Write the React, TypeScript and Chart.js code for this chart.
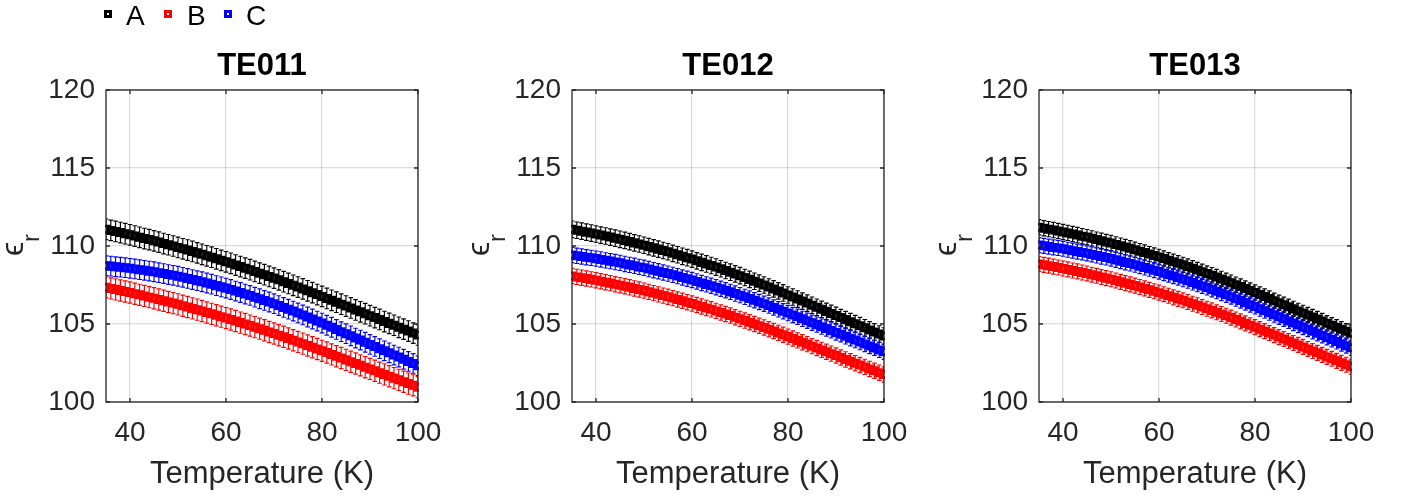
import React, { useEffect, useRef } from "react";
import { Chart, registerables } from "chart.js";

Chart.register(...registerables);

// ---------- data ----------
const temperature = [
  35, 36, 37, 38, 39, 40, 41, 42, 43, 44, 45, 46, 47, 48, 49, 50, 51, 52, 53, 54, 55, 56,
  57, 58, 59, 60, 61, 62, 63, 64, 65, 66, 67, 68, 69, 70, 71, 72, 73, 74, 75, 76, 77, 78,
  79, 80, 81, 82, 83, 84, 85, 86, 87, 88, 89, 90, 91, 92, 93, 94, 95, 96, 97, 98, 99, 100,
];

const te011A = [
  111.07, 111.0, 110.93, 110.86, 110.79, 110.72, 110.64, 110.56, 110.48, 110.41, 110.33,
  110.25, 110.16, 110.08, 110.0, 109.91, 109.82, 109.74, 109.65, 109.56, 109.47,
  109.37, 109.28, 109.18, 109.08, 108.99, 108.89, 108.78, 108.68, 108.58, 108.48,
  108.37, 108.26, 108.16, 108.05, 107.94, 107.83, 107.71, 107.6, 107.48, 107.37,
  107.25, 107.13, 107.01, 106.89, 106.77, 106.64, 106.52, 106.4, 106.27, 106.15,
  106.03, 105.9, 105.78, 105.66, 105.53, 105.41, 105.29, 105.16, 105.04, 104.92,
  104.79, 104.67, 104.55, 104.42, 104.3,
];
const te011B = [
  107.35, 107.28, 107.22, 107.15, 107.08, 107.02, 106.94, 106.87, 106.8, 106.72, 106.65,
  106.57, 106.49, 106.41, 106.34, 106.26, 106.17, 106.09, 106.0, 105.92, 105.83,
  105.74, 105.65, 105.56, 105.47, 105.38, 105.29, 105.19, 105.09, 105.0, 104.9,
  104.8, 104.7, 104.6, 104.49, 104.39, 104.28, 104.18, 104.07, 103.96, 103.85,
  103.74, 103.62, 103.51, 103.4, 103.28, 103.17, 103.05, 102.93, 102.82, 102.7,
  102.58, 102.47, 102.35, 102.23, 102.12, 102.0, 101.88, 101.77, 101.65, 101.53,
  101.42, 101.3, 101.18, 101.07, 100.95,
];
const te011C = [
  108.74, 108.71, 108.67, 108.64, 108.61, 108.57, 108.53, 108.48, 108.44, 108.39, 108.35,
  108.29, 108.23, 108.17, 108.12, 108.06, 107.99, 107.92, 107.85, 107.78, 107.71,
  107.63, 107.55, 107.46, 107.38, 107.3, 107.21, 107.11, 107.02, 106.92, 106.83,
  106.72, 106.62, 106.51, 106.41, 106.3, 106.18, 106.06, 105.95, 105.83, 105.71,
  105.58, 105.45, 105.32, 105.19, 105.06, 104.92, 104.79, 104.65, 104.51, 104.38,
  104.24, 104.1, 103.97, 103.83, 103.69, 103.56, 103.42, 103.28, 103.15, 103.01,
  102.88, 102.74, 102.6, 102.47, 102.33,
];

const te012A = [
  111.07, 111.01, 110.95, 110.89, 110.83, 110.77, 110.7, 110.64, 110.57, 110.5, 110.43,
  110.36, 110.28, 110.2, 110.13, 110.05, 109.96, 109.88, 109.8, 109.71, 109.63,
  109.53, 109.44, 109.34, 109.25, 109.16, 109.05, 108.95, 108.85, 108.75, 108.65,
  108.54, 108.43, 108.32, 108.21, 108.1, 107.98, 107.86, 107.74, 107.62, 107.5,
  107.37, 107.25, 107.12, 106.99, 106.86, 106.73, 106.6, 106.47, 106.34, 106.2,
  106.07, 105.94, 105.81, 105.68, 105.55, 105.41, 105.28, 105.15, 105.02, 104.89,
  104.76, 104.62, 104.49, 104.36, 104.23,
];
const te012B = [
  108.08, 108.02, 107.97, 107.92, 107.86, 107.81, 107.74, 107.68, 107.62, 107.55, 107.49,
  107.42, 107.35, 107.28, 107.21, 107.14, 107.06, 106.98, 106.9, 106.82, 106.75,
  106.66, 106.57, 106.49, 106.4, 106.31, 106.22, 106.12, 106.03, 105.94, 105.84,
  105.74, 105.64, 105.54, 105.43, 105.33, 105.22, 105.11, 105.0, 104.89, 104.78,
  104.66, 104.55, 104.43, 104.31, 104.19, 104.07, 103.95, 103.83, 103.71, 103.58,
  103.46, 103.34, 103.22, 103.1, 102.98, 102.85, 102.73, 102.61, 102.49, 102.37,
  102.25, 102.12, 102.0, 101.88, 101.76,
];
const te012C = [
  109.42, 109.37, 109.33, 109.28, 109.24, 109.19, 109.14, 109.08, 109.03, 108.97, 108.92,
  108.85, 108.79, 108.73, 108.66, 108.6, 108.52, 108.45, 108.38, 108.3, 108.23,
  108.15, 108.07, 107.98, 107.9, 107.82, 107.73, 107.63, 107.54, 107.45, 107.36,
  107.26, 107.16, 107.06, 106.95, 106.85, 106.74, 106.63, 106.52, 106.41, 106.3,
  106.18, 106.06, 105.94, 105.82, 105.7, 105.58, 105.46, 105.33, 105.21, 105.08,
  104.96, 104.83, 104.71, 104.59, 104.46, 104.34, 104.21, 104.09, 103.97, 103.84,
  103.72, 103.59, 103.47, 103.34, 103.22,
];

const te013A = [
  111.2, 111.14, 111.08, 111.02, 110.96, 110.9, 110.84, 110.77, 110.7, 110.63, 110.57,
  110.49, 110.41, 110.34, 110.26, 110.19, 110.1, 110.02, 109.93, 109.85, 109.76,
  109.67, 109.58, 109.48, 109.39, 109.3, 109.2, 109.09, 108.99, 108.89, 108.79,
  108.68, 108.57, 108.46, 108.35, 108.24, 108.13, 108.01, 107.89, 107.77, 107.65,
  107.52, 107.4, 107.27, 107.15, 107.02, 106.89, 106.76, 106.63, 106.49, 106.36,
  106.23, 106.1, 105.97, 105.84, 105.71, 105.58, 105.45, 105.32, 105.19, 105.05,
  104.92, 104.79, 104.66, 104.53, 104.4,
];
const te013B = [
  108.85, 108.79, 108.74, 108.68, 108.62, 108.56, 108.5, 108.43, 108.37, 108.3, 108.24,
  108.16, 108.09, 108.01, 107.94, 107.87, 107.79, 107.7, 107.62, 107.54, 107.46,
  107.37, 107.28, 107.19, 107.1, 107.01, 106.91, 106.81, 106.71, 106.61, 106.52,
  106.41, 106.3, 106.2, 106.09, 105.98, 105.87, 105.75, 105.64, 105.53, 105.41,
  105.29, 105.17, 105.04, 104.92, 104.8, 104.67, 104.54, 104.42, 104.29, 104.16,
  104.04, 103.91, 103.78, 103.66, 103.53, 103.4, 103.27, 103.15, 103.02, 102.89,
  102.77, 102.64, 102.51, 102.39, 102.26,
];
const te013C = [
  110.06, 110.01, 109.96, 109.91, 109.87, 109.82, 109.76, 109.7, 109.64, 109.59, 109.53,
  109.46, 109.39, 109.32, 109.26, 109.19, 109.11, 109.03, 108.95, 108.88, 108.8,
  108.71, 108.62, 108.54, 108.45, 108.36, 108.26, 108.16, 108.07, 107.97, 107.87,
  107.77, 107.66, 107.55, 107.44, 107.34, 107.22, 107.1, 106.98, 106.87, 106.75,
  106.62, 106.5, 106.37, 106.24, 106.12, 105.98, 105.85, 105.72, 105.59, 105.46,
  105.33, 105.19, 105.06, 104.93, 104.8, 104.67, 104.53, 104.4, 104.27, 104.14,
  104.01, 103.88, 103.74, 103.61, 103.48,
];

// half-length of the error bars, per series (A, B, C)
const te011Err = [0.66, 0.68, 0.63];
const te012Err = [0.53, 0.49, 0.49];
const te013Err = [0.49, 0.48, 0.48];

const panelTitles = ["TE011", "TE012", "TE013"];
const seriesNames = ["A", "B", "C"];
const seriesColors = ["#000000", "#ff0000", "#0000ff"];
const xTickValues = [40, 60, 80, 100];
const yTickStep = 5;
const xRange = [35, 100];
const yRange = [100, 120];

const panels = [
  { title: panelTitles[0], series: [te011A, te011B, te011C], errors: te011Err },
  { title: panelTitles[1], series: [te012A, te012B, te012C], errors: te012Err },
  { title: panelTitles[2], series: [te013A, te013B, te013C], errors: te013Err },
];

// ---------- style ----------
const FONT = '"Liberation Sans", Arial, Helvetica, sans-serif';
const AXIS_COLOR = "#262626";
const GRID_COLOR = "rgba(0,0,0,0.14)";
const CANVAS_W = 466;
const CANVAS_H = 496;
const CANVAS_LEFTS = [0, 466, 933];

const errorBarPlugin = {
  id: "errorBars",
  beforeDatasetDraw(chart: any, args: any) {
    const ds: any = chart.data.datasets[args.index];
    const meta = args.meta;
    const yScale = chart.scales.y;
    const ca = chart.chartArea;
    const ctx = chart.ctx;
    const cap = 2.3;
    ctx.save();
    ctx.beginPath();
    ctx.rect(ca.left, ca.top, ca.right - ca.left, ca.bottom - ca.top);
    ctx.clip();
    ctx.strokeStyle = ds.borderColor;
    ctx.lineWidth = 1.15;
    ctx.beginPath();
    meta.data.forEach((pt: any, i: number) => {
      const v = ds.data[i].y;
      const e = ds.errorHalf;
      const x = pt.x;
      const yt = yScale.getPixelForValue(v + e);
      const yb = yScale.getPixelForValue(v - e);
      ctx.moveTo(x, yt);
      ctx.lineTo(x, yb);
      ctx.moveTo(x - cap, yt);
      ctx.lineTo(x + cap, yt);
      ctx.moveTo(x - cap, yb);
      ctx.lineTo(x + cap, yb);
    });
    ctx.stroke();
    ctx.restore();
  },
};

const framePlugin = {
  id: "frame",
  afterDraw(chart: any, _args: any, opts: any) {
    const ctx = chart.ctx;
    const { left, right, top, bottom } = chart.chartArea;
    const xs = chart.scales.x;
    const ys = chart.scales.y;
    ctx.save();
    ctx.strokeStyle = AXIS_COLOR;
    ctx.lineWidth = 1.3;
    ctx.strokeRect(left, top, right - left, bottom - top);
    const tl = 4;
    ctx.beginPath();
    xs.ticks.forEach((t: any) => {
      const px = xs.getPixelForValue(t.value);
      ctx.moveTo(px, bottom);
      ctx.lineTo(px, bottom - tl);
      ctx.moveTo(px, top);
      ctx.lineTo(px, top + tl);
    });
    ys.ticks.forEach((t: any) => {
      const py = ys.getPixelForValue(t.value);
      ctx.moveTo(left, py);
      ctx.lineTo(left + tl, py);
      ctx.moveTo(right, py);
      ctx.lineTo(right - tl, py);
    });
    ctx.stroke();

    const cx = (left + right) / 2;
    const cy = (top + bottom) / 2;
    ctx.textAlign = "center";
    ctx.textBaseline = "alphabetic";
    ctx.fillStyle = "#000000";
    ctx.font = `bold 31px ${FONT}`;
    ctx.fillText(opts.title, cx, 75);

    ctx.fillStyle = AXIS_COLOR;
    ctx.font = `31px ${FONT}`;
    ctx.fillText("Temperature (K)", cx, 483);

    // y label: epsilon with subscript r, rotated
    ctx.save();
    ctx.translate(left - 83, cy + 3);
    ctx.rotate(-Math.PI / 2);
    ctx.font = `32px ${FONT}`;
    ctx.fillText("\u03F5", 0, 0);
    ctx.restore();
    ctx.save();
    ctx.translate(left - 67, cy - 8);
    ctx.rotate(-Math.PI / 2);
    ctx.font = `24px ${FONT}`;
    ctx.fillText("r", 0, 0);
    ctx.restore();

    ctx.restore();
  },
};

function Panel({ index }: { index: number }) {
  const ref = useRef<HTMLCanvasElement | null>(null);
  useEffect(() => {
    if (!ref.current) return;
    const p = panels[index];
    const datasets = seriesNames.map((name, k) => ({
      label: name,
      data: temperature.map((t, i) => ({ x: t, y: p.series[k][i] })),
      errorHalf: p.errors[k],
      borderColor: seriesColors[k],
      backgroundColor: "rgba(0,0,0,0)",
      pointBorderColor: seriesColors[k],
      pointBackgroundColor: "rgba(0,0,0,0)",
      pointStyle: "rect",
      pointRadius: 4.4,
      pointBorderWidth: 2.8,
      showLine: false,
      order: 3 - k,
      clip: 1,
    }));
    const chart = new Chart(ref.current, {
      type: "scatter",
      data: { datasets } as any,
      plugins: [errorBarPlugin, framePlugin],
      options: {
        animation: false,
        responsive: false,
        events: [],
        layout: { padding: { top: 90, right: 48, left: 0, bottom: 0 } },
        plugins: {
          legend: { display: false },
          tooltip: { enabled: false },
          title: { display: false },
          frame: { title: p.title },
        } as any,
        scales: {
          x: {
            type: "linear",
            min: xRange[0],
            max: xRange[1],
            afterBuildTicks: (s: any) => {
              s.ticks = xTickValues.map((v) => ({ value: v }));
            },
            afterFit: (s: any) => {
              s.height = 94;
            },
            grid: { color: GRID_COLOR, lineWidth: 1.2, drawTicks: false },
            border: { display: false },
            ticks: {
              font: { family: FONT, size: 28 },
              color: AXIS_COLOR,
              padding: 14,
              maxRotation: 0,
              autoSkip: false,
            },
          },
          y: {
            type: "linear",
            min: yRange[0],
            max: yRange[1],
            afterFit: (s: any) => {
              s.width = 106;
            },
            grid: { color: GRID_COLOR, lineWidth: 1.2, drawTicks: false },
            border: { display: false },
            ticks: {
              stepSize: yTickStep,
              font: { family: FONT, size: 28 },
              color: AXIS_COLOR,
              padding: 11,
            },
          },
        },
      } as any,
    });
    return () => chart.destroy();
  }, [index]);
  return (
    <canvas
      ref={ref}
      width={CANVAS_W}
      height={CANVAS_H}
      style={{
        position: "absolute",
        left: CANVAS_LEFTS[index],
        top: 0,
        width: CANVAS_W,
        height: CANVAS_H,
        display: "block",
      }}
    />
  );
}

const legendMarkerLefts = [104, 164, 224];
const legendTextLefts = [126, 187, 246];

export default function App() {
  return (
    <div
      style={{
        position: "absolute",
        left: 0,
        top: 0,
        width: 1406,
        height: 496,
        background: "#ffffff",
        overflow: "hidden",
        fontFamily: FONT,
      }}
    >
      {panels.map((_, i) => (
        <Panel key={i} index={i} />
      ))}
      {seriesNames.map((name, k) => (
        <React.Fragment key={name}>
          <div
            style={{
              position: "absolute",
              left: legendMarkerLefts[k],
              top: 10,
              width: 8,
              height: 8,
              boxSizing: "border-box",
              border: `3px solid ${seriesColors[k]}`,
            }}
          />
          <div
            style={{
              position: "absolute",
              left: legendTextLefts[k],
              top: 2,
              fontSize: 28,
              lineHeight: "28px",
              color: "#000000",
              whiteSpace: "nowrap",
            }}
          >
            {name}
          </div>
        </React.Fragment>
      ))}
    </div>
  );
}
